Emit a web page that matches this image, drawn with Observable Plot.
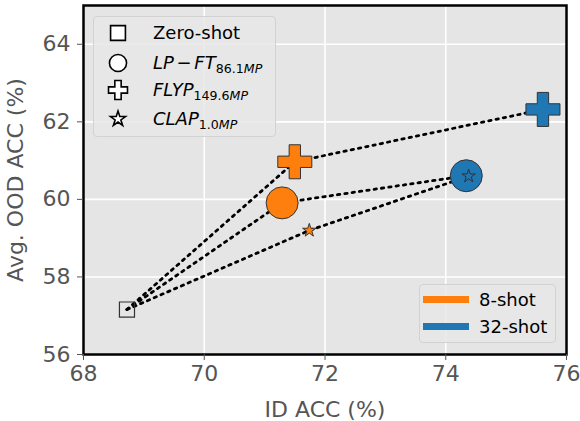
<!DOCTYPE html>
<html>
<head>
<meta charset="utf-8">
<script src="https://cdn.jsdelivr.net/npm/d3@7"></script>
<script src="https://cdn.jsdelivr.net/npm/@observablehq/plot@0.6"></script>
<style>
  body { margin: 0; background: #fff; font-family: "DejaVu Sans", sans-serif; }
  #chart { position: relative; width: 580px; height: 421px; }
  .legend { position: absolute; box-sizing: border-box; background: rgba(232,232,232,0.85);
            border: 1px solid #d2d2d2; border-radius: 4px; color: #000; font-size: 18px; }
  .row { position: absolute; left: 0; display: flex; align-items: center; white-space: nowrap; }
  .row svg { flex: none; }
  .row .lab { position: absolute; }
  .row sub { font-size: 0.7em; vertical-align: -0.35em; line-height: 0; }
  .row .op { margin: 0 0.15em; }
</style>
</head>
<body>
<div id="chart"></div>
<script>
// Methods compared, with their marker shapes and legend labels
const methods = ["LP-FT", "FLYP", "CLAP"];
const methodSymbols = ["circle", "cross", "star"];
const methodLabels = [
  "<i>LP</i><span class=\"op\">−</span><i>FT</i><sub>86.1<i>MP</i></sub>",
  "<i>FLYP</i><sub>149.6<i>MP</i></sub>",
  "<i>CLAP</i><sub>1.0<i>MP</i></sub>"
];
const shots = ["8-shot", "32-shot"];
const shotColors = ["#ff7f0e", "#1f77b4"];

// Zero-shot starting point: [ID ACC, OOD ACC]
const zeroShot = [68.72, 57.16];

// Few-shot results, one value per method
const shot8Id = [71.29, 71.50, 71.74];
const shot8Ood = [59.91, 60.97, 59.20];
const shot32Id = [74.34, 75.61, 74.38];
const shot32Ood = [60.61, 62.32, 60.60];

const xTicks = [68, 70, 72, 74, 76];
const yTicks = [56, 58, 60, 62, 64];

// Points and the dotted paths zero-shot -> 8-shot -> 32-shot
const points = methods.flatMap((m, i) => [
  {method: m, symbol: methodSymbols[i], shot: shots[0], x: shot8Id[i], y: shot8Ood[i]},
  {method: m, symbol: methodSymbols[i], shot: shots[1], x: shot32Id[i], y: shot32Ood[i]}
]);
const paths = methods.flatMap((m, i) => [
  {method: m, x: zeroShot[0], y: zeroShot[1]},
  {method: m, x: shot8Id[i], y: shot8Ood[i]},
  {method: m, x: shot32Id[i], y: shot32Ood[i]}
]);

const markerR = {circle: 16, cross: 14.3, star: 4.2};

const dotsFor = (sym) => Plot.dot(points.filter(d => d.symbol === sym), {
  x: "x", y: "y", symbol: sym, r: markerR[sym], fill: "shot",
  stroke: "#333", strokeWidth: 1
});

const chart = Plot.plot({
  width: 580,
  height: 421,
  marginLeft: 83,
  marginRight: 14,
  marginTop: 5,
  marginBottom: 67,
  style: {fontFamily: "DejaVu Sans, sans-serif", color: "#555", background: "#fff", overflow: "visible"},
  x: {domain: [68, 76]},
  y: {domain: [56, 65]},
  color: {domain: shots, range: shotColors},
  marks: [
    Plot.frame({fill: "#e5e5e5"}),
    Plot.gridX(xTicks, {stroke: "#fff", strokeOpacity: 1, strokeWidth: 1.6}),
    Plot.gridY(yTicks, {stroke: "#fff", strokeOpacity: 1, strokeWidth: 1.6}),
    Plot.line(paths, {x: "x", y: "y", z: "method", stroke: "#000", strokeWidth: 2.8,
      strokeDasharray: "2.4,5"}),
    Plot.dot([zeroShot], {x: d => d[0], y: d => d[1], symbol: "square", r: 8.5,
      fill: "none", stroke: "#333", strokeWidth: 1.2}),
    dotsFor("circle"),
    dotsFor("cross"),
    dotsFor("star"),
    Plot.frame({stroke: "#000", strokeWidth: 2.5}),
    Plot.axisX(xTicks, {tickSize: 6, tickPadding: 5, fontSize: 22,
      label: "ID ACC (%)", labelAnchor: "center", labelArrow: "none", labelOffset: 62}),
    Plot.axisY(yTicks, {tickSize: 6, tickPadding: 7, fontSize: 22,
      label: "Avg. OOD ACC (%)", labelAnchor: "center", labelArrow: "none", labelOffset: 76})
  ]
});

const root = document.getElementById("chart");
root.appendChild(chart);

// Small SVG marker icon for legend rows
function icon(sym, size, w, h) {
  const p = d3.symbol(d3["symbol" + sym[0].toUpperCase() + sym.slice(1)], size)();
  return `<svg width="${w}" height="${h}" viewBox="${-w/2} ${-h/2} ${w} ${h}"><path d="${p}" fill="#fff" stroke="#000" stroke-width="1.6"/></svg>`;
}

// Marker legend (top left)
const leg1 = document.createElement("div");
leg1.className = "legend";
Object.assign(leg1.style, {left: "93px", top: "16px", width: "183px", height: "121px"});
const rows1 = [
  {sym: "square", size: 220, label: "Zero-shot", cy: 16},
  ...methods.map((m, i) => ({sym: methodSymbols[i],
    size: [230, 200, 70][i], label: methodLabels[i], cy: [46, 73, 102][i]}))
];
rows1.forEach(r => {
  const row = document.createElement("div");
  row.className = "row";
  row.style.top = (r.cy - 12) + "px";
  row.style.height = "24px";
  row.innerHTML = `<span style="position:absolute;left:12px;top:0">${icon(r.sym, r.size, 24, 24)}</span>` +
    `<span class="lab" style="left:59px;top:0;line-height:24px">${r.label}</span>`;
  leg1.appendChild(row);
});
root.appendChild(leg1);

// Shot-count legend (bottom right)
const leg2 = document.createElement("div");
leg2.className = "legend";
Object.assign(leg2.style, {left: "419px", top: "284px", width: "137px", height: "59px"});
shots.forEach((s, i) => {
  const row = document.createElement("div");
  row.className = "row";
  row.style.top = (15 + i * 27 - 12) + "px";
  row.style.height = "24px";
  row.innerHTML = `<span style="position:absolute;left:3px;top:8px;width:46px;height:7px;background:${shotColors[i]}"></span>` +
    `<span class="lab" style="left:59px;top:0;line-height:24px">${s}</span>`;
  leg2.appendChild(row);
});
root.appendChild(leg2);
</script>
</body>
</html>
